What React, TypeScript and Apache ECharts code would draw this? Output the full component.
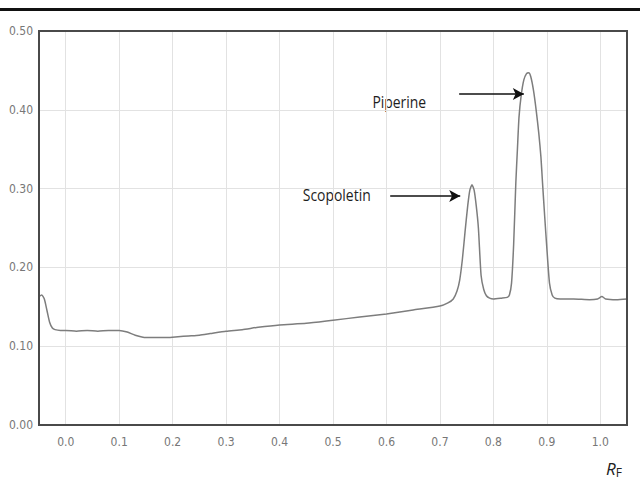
import React, { useEffect, useRef } from "react";
import * as echarts from "echarts";

const rfValues = [
  -0.05, -0.045, -0.04, -0.035, -0.03, -0.025, -0.02, -0.01, 0.0, 0.02, 0.04, 0.06, 0.08, 0.1,
  0.115, 0.13, 0.15, 0.17, 0.19, 0.21, 0.23, 0.25, 0.27, 0.3, 0.33, 0.36, 0.4, 0.45, 0.5, 0.55,
  0.6, 0.65, 0.7, 0.715, 0.725, 0.732, 0.737, 0.742, 0.747, 0.752, 0.756, 0.76, 0.764, 0.768,
  0.772, 0.777, 0.782, 0.787, 0.793, 0.8, 0.815, 0.826, 0.83, 0.834, 0.838, 0.842, 0.845,
  0.848, 0.852, 0.857, 0.862, 0.866, 0.87, 0.875, 0.88, 0.885, 0.889, 0.892, 0.896, 0.9,
  0.905, 0.91, 0.915, 0.925, 0.95, 0.98, 0.995, 1.003, 1.01, 1.03, 1.05,
];
const absorbance = [
  0.163, 0.165, 0.16, 0.145, 0.13, 0.123, 0.121, 0.12, 0.12, 0.119, 0.12, 0.119, 0.12, 0.12,
  0.118, 0.114, 0.111, 0.111, 0.111, 0.112, 0.113, 0.114, 0.116, 0.119, 0.121, 0.124, 0.127,
  0.129, 0.133, 0.137, 0.141, 0.146, 0.151, 0.155, 0.16, 0.17, 0.184, 0.21, 0.245, 0.278,
  0.298, 0.305, 0.298, 0.278, 0.25, 0.19, 0.172, 0.164, 0.161, 0.16, 0.161, 0.162, 0.165,
  0.18, 0.23, 0.307, 0.35, 0.391, 0.418, 0.438, 0.446, 0.447, 0.442, 0.425, 0.4, 0.37, 0.34,
  0.307, 0.265, 0.225, 0.18, 0.165, 0.161, 0.16, 0.16, 0.159, 0.16, 0.163, 0.16, 0.159, 0.16,
];

const peakNames = ["Piperine", "Scopoletin"];
const labelPos = [
  [0.624, 0.41],
  [0.507, 0.292],
];
const arrowStart = [
  [0.736, 0.42],
  [0.607, 0.2906],
];
const arrowEnd = [
  [0.857, 0.42],
  [0.738, 0.2906],
];

const xTickDigits = 1;
const yTickDigits = 2;

export default function App() {
  const ref = useRef<HTMLDivElement>(null);

  useEffect(() => {
    document.body.style.margin = "0";
    if (!ref.current) return;
    const chart = echarts.init(ref.current, undefined, { renderer: "svg" });
    const axisFont = '"DejaVu Sans Condensed", "Liberation Sans Narrow", "DejaVu Sans", sans-serif';
    const gridL = 39, gridT = 31, gridR = 13, gridB = 66;
    const option: any = {
      animation: false,
      backgroundColor: "#ffffff",
      grid: {
        left: gridL,
        top: gridT,
        right: gridR,
        bottom: gridB,
      },
      xAxis: {
        type: "value",
        min: -0.05,
        max: 1.05,
        splitNumber: 11,
        minInterval: 0.1,
        maxInterval: 0.1,
        axisLine: { show: false },
        axisTick: { show: false },
        axisLabel: {
          color: "#777777",
          fontSize: 12,
          fontFamily: axisFont,
          margin: 11,
          showMinLabel: false,
          showMaxLabel: false,
          formatter: (v: number) => v.toFixed(xTickDigits),
        },
        splitLine: { show: true, lineStyle: { color: "#e2e2e2", width: 1 } },
      },
      yAxis: {
        type: "value",
        min: 0,
        max: 0.5,
        interval: 0.1,
        axisLine: { show: false },
        axisTick: { show: false },
        axisLabel: {
          color: "#777777",
          fontSize: 12,
          fontFamily: axisFont,
          margin: 6,
          formatter: (v: number) => v.toFixed(yTickDigits),
        },
        splitLine: { show: true, lineStyle: { color: "#e2e2e2", width: 1 } },
      },
      series: [
        {
          type: "line",
          data: rfValues.map((x, i) => [x, absorbance[i]]),
          showSymbol: false,
          smooth: 0.2,
          lineStyle: { color: "#7d7d7d", width: 1.5 },
          silent: true,
          markLine: {
            silent: true,
            symbol: ["none", "arrow"],
            symbolSize: [9, 11],
            label: { show: false },
            lineStyle: { color: "#111111", width: 1.6, type: "solid" },
            data: arrowStart.map((s, i) => [{ coord: s }, { coord: arrowEnd[i] }]),
          },
        },
      ],
      graphic: [
        {
          id: "topbar",
          type: "rect",
          shape: { x: 0, y: 8, width: 640, height: 3 },
          style: { fill: "#111111" },
          silent: true,
        },
        {
          id: "frame",
          type: "rect",
          z: 100,
          shape: { x: gridL, y: gridT, width: 640 - gridL - gridR, height: 491 - gridT - gridB },
          style: { fill: "none", stroke: "#4a4a4a", lineWidth: 2 },
          silent: true,
        },
        {
          id: "rf",
          type: "text",
          x: 606,
          y: 458,
          silent: true,
          style: {
            text: "{r|R}{f|F}",
            rich: {
              r: { fontSize: 17, fontStyle: "italic", fill: "#222", fontFamily: "Open Sans, sans-serif" },
              f: { fontSize: 12, fill: "#222", fontFamily: "Open Sans, sans-serif", padding: [8, 0, 0, 0] },
            },
          },
        },
      ],
    };
    chart.setOption(option);

    const labels = peakNames.map((n, i) => {
      const p = chart.convertToPixel({ gridIndex: 0 }, labelPos[i]) as number[];
      return {
        id: "lbl" + i,
        type: "text",
        x: p[0],
        y: p[1],
        scaleX: 0.82,
        silent: true,
        style: {
          text: n,
          fill: "#1e1e1e",
          fontSize: 17,
          fontFamily: '"Open Sans", sans-serif',
          align: "center",
          verticalAlign: "middle",
        },
      };
    });
    chart.setOption({ graphic: labels });
    return () => chart.dispose();
  }, []);

  return <div ref={ref} style={{ width: 640, height: 491 }} />;
}
